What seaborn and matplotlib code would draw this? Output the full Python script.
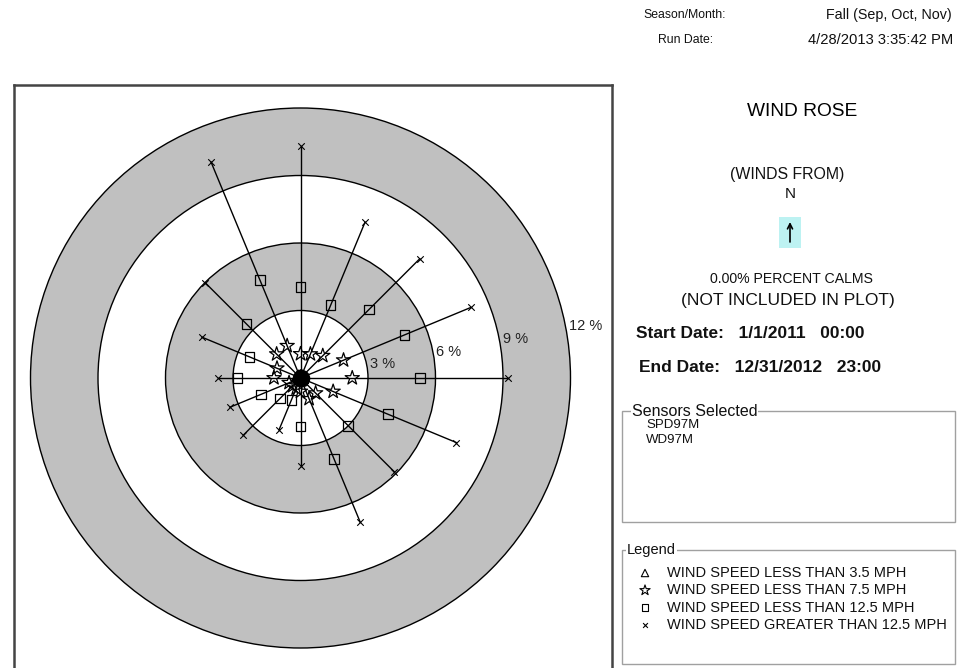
import numpy as np
import pandas as pd
import matplotlib
matplotlib.use("Agg")
import matplotlib.pyplot as plt
from matplotlib.patches import Circle, Rectangle
import seaborn as sns

# ---------------- data ----------------
directions = ["N", "NNE", "NE", "ENE", "E", "ESE", "SE", "SSE",
              "S", "SSW", "SW", "WSW", "W", "WNW", "NW", "NNW"]
# cumulative percent of time (radius) for each speed class
pct_lt_3_5 = [0.20, 0.20, 0.20, 0.20, 0.20, 0.20, 0.20, 0.20,
              0.15, 0.15, 0.15, 0.15, 0.20, 0.20, 0.20, 0.20]
pct_lt_7_5 = [1.07, 1.15, 1.40, 2.07, 2.30, 1.57, 0.95, 1.00,
              0.60, 0.50, 0.50, 0.55, 1.18, 1.13, 1.50, 1.55]
pct_lt_12_5 = [4.05, 3.50, 4.30, 5.00, 5.30, 4.20, 3.00, 3.90,
               2.15, 1.05, 1.30, 1.90, 2.80, 2.45, 3.40, 4.70]
pct_gt_12_5 = [10.30, 7.50, 7.50, 8.20, 9.20, 7.50, 5.90, 6.95,
               3.90, 2.50, 3.60, 3.40, 3.65, 4.75, 6.00, 10.40]
ring_levels = [12, 9, 6, 3]
ring_labels = ["12 %", "9 %", "6 %", "3 %"]
legend_labels = ["WIND SPEED LESS THAN 3.5 MPH",
                 "WIND SPEED LESS THAN 7.5 MPH",
                 "WIND SPEED LESS THAN 12.5 MPH",
                 "WIND SPEED GREATER THAN 12.5 MPH"]
sensors = ["SPD97M", "WD97M"]

# ---------------- build tables ----------------
ang = np.deg2rad(np.arange(len(directions)) * 22.5)
classes = {"lt35": pct_lt_3_5, "lt75": pct_lt_7_5,
           "lt125": pct_lt_12_5, "gt125": pct_gt_12_5}
rows = []
for cls, vals in classes.items():
    for d, a, r in zip(directions, ang, vals):
        rows.append(dict(direction=d, cls=cls, r=r,
                         x=r * np.sin(a), y=r * np.cos(a)))
pts = pd.DataFrame(rows)

spoke_rows = []
for d, a, r in zip(directions, ang, pct_gt_12_5):
    spoke_rows.append(dict(direction=d, x=0.0, y=0.0, order=0))
    spoke_rows.append(dict(direction=d, x=r * np.sin(a), y=r * np.cos(a), order=1))
spokes = pd.DataFrame(spoke_rows)

# ---------------- figure ----------------
sns.set_style("white")
plt.rcParams["font.family"] = ["Liberation Sans", "DejaVu Sans"]

W, H = 957, 668
fig = plt.figure(figsize=(W / 100, H / 100), dpi=100)
fig.patch.set_facecolor("white")

PX = 22.5            # pixels per percent
cx, cy = 300.5, 378  # center in pixels
left_px, right_px, top_px, bot_px = 14, 612, 85, 673
ax = fig.add_axes([left_px / W, (H - bot_px) / H,
                   (right_px - left_px) / W, (bot_px - top_px) / H])
ax.set_xlim(-(cx - left_px) / PX, (right_px - cx) / PX)
ax.set_ylim(-(bot_px - cy) / PX, (cy - top_px) / PX)
ax.set_xticks([]); ax.set_yticks([])
for s in ax.spines.values():
    s.set_color("#444444")
    s.set_linewidth(1.8)
ax.set_facecolor("white")

# rings
for lvl, fc in zip(ring_levels, ["#c0c0c0", "white", "#c0c0c0", "white"]):
    ax.add_patch(Circle((0, 0), lvl, facecolor=fc, edgecolor="black",
                        lw=1.0, zorder=1))
lab_ang = np.deg2rad(79)
for lvl, lab in zip(ring_levels, ring_labels):
    r = lvl + 0.15
    ax.text(r * np.sin(lab_ang), r * np.cos(lab_ang), lab, ha="left",
            va="center", fontsize=10.5, color="#222222", zorder=6)

# spokes
sns.lineplot(data=spokes, x="x", y="y", units="direction", estimator=None,
             sort=False, color="black", lw=1.0, ax=ax, legend=False, zorder=3)

marker_spec = {"lt35": ("^", 30, 0.9), "lt75": ("*", 115, 0.9),
               "lt125": ("s", 48, 0.9), "gt125": ("x", 22, 0.8)}
for cls, (m, size, lw) in marker_spec.items():
    sub = pts[pts["cls"] == cls]
    sns.scatterplot(data=sub, x="x", y="y", marker=m, s=size, color="black",
                    linewidth=lw, ax=ax, legend=False, zorder=5)
    coll = ax.collections[-1]
    if m != "x":
        coll.set_facecolor("none")
    coll.set_edgecolor("black")
    coll.set_linewidth(lw)

# center blob
sns.scatterplot(x=[0.0], y=[0.0], s=160, color="black", ax=ax,
                legend=False, zorder=4, linewidth=0)
ax.set_xlabel(""); ax.set_ylabel("")

# ---------------- right-hand panel (pixel coords overlay) ----------------
ov = fig.add_axes([0, 0, 1, 1])
ov.set_xlim(0, W); ov.set_ylim(H, 0)
ov.axis("off")
ov.patch.set_alpha(0)

tc = "#111111"
ov.text(685, 15, "Season/Month:", ha="center", va="center", fontsize=8.8, color=tc)
ov.text(889, 15, "Fall (Sep, Oct, Nov)", ha="center", va="center", fontsize=10.3, color=tc)
ov.text(686, 40, "Run Date:", ha="center", va="center", fontsize=8.8, color=tc)
ov.text(881, 40, "4/28/2013 3:35:42 PM", ha="center", va="center", fontsize=10.6, color=tc)

ov.text(802, 112, "WIND ROSE", ha="center", va="center", fontsize=13.8, color="black")
ov.text(787, 175, "(WINDS FROM)", ha="center", va="center", fontsize=11.4, color=tc)
ov.text(790, 194, "N", ha="center", va="center", fontsize=11, color=tc)
ov.add_patch(Rectangle((779, 217), 22, 31, facecolor="#bdf2f2", edgecolor="none"))
ov.annotate("", xy=(790, 222), xytext=(790, 242),
            arrowprops=dict(arrowstyle="->", color="black", lw=1.2,
                            mutation_scale=9, shrinkA=0, shrinkB=0))

ov.text(791, 279, "0.00% PERCENT CALMS", ha="center", va="center", fontsize=10.2, color=tc)
ov.text(788, 301, "(NOT INCLUDED IN PLOT)", ha="center", va="center", fontsize=12.5, color=tc)
ov.text(636, 333, "Start Date:   1/1/2011   00:00", ha="left", va="center",
        fontsize=12.5, fontweight="bold", color=tc)
ov.text(639, 368, "End Date:   12/31/2012   23:00", ha="left", va="center",
        fontsize=12.5, fontweight="bold", color=tc)

# sensors group box
ov.add_patch(Rectangle((622, 411), 333, 111, facecolor="none",
                       edgecolor="#a0a0a0", lw=1.0))
ov.text(632, 411, "Sensors Selected", ha="left", va="center", fontsize=11.5,
        color=tc, bbox=dict(facecolor="white", edgecolor="none", pad=0.5))
for i, s in enumerate(sensors):
    ov.text(646, 425 + i * 15, s, ha="left", va="center", fontsize=9.5, color=tc)

# legend group box
ov.add_patch(Rectangle((622, 550), 333, 114, facecolor="none",
                       edgecolor="#a0a0a0", lw=1.0))
ov.text(627, 550, "Legend", ha="left", va="center", fontsize=10.5,
        color=tc, bbox=dict(facecolor="white", edgecolor="none", pad=0.5))
leg_markers = [("^", 28), ("*", 60), ("s", 22), ("x", 12)]
for i, (lab, (m, size)) in enumerate(zip(legend_labels, leg_markers)):
    yy = 573 + i * 17.3
    ov.scatter([645], [yy], marker=m, s=size,
               facecolors="none" if m != "x" else "black",
               edgecolors="black", linewidths=0.8)
    ov.text(667, yy, lab, ha="left", va="center", fontsize=10.5, color=tc)

fig.savefig("out.png", dpi=100, facecolor="white")
